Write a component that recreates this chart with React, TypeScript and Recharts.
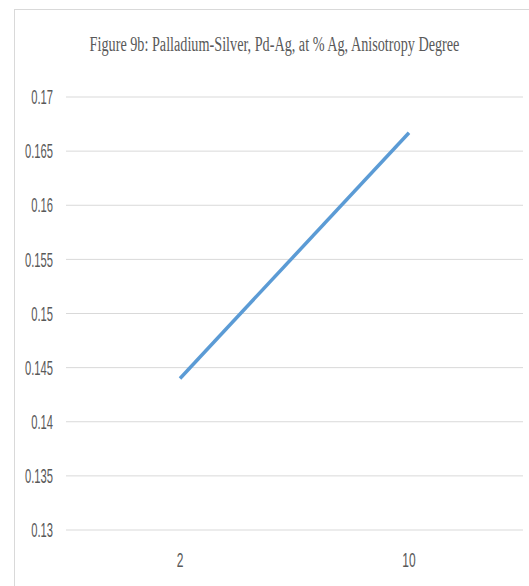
import { LineChart, Line, XAxis, YAxis, CartesianGrid } from 'recharts';

const categories = ['2', '10'];
const anisotropy = [0.144, 0.1667];
const yTicks = [0.13, 0.135, 0.14, 0.145, 0.15, 0.155, 0.16, 0.165, 0.17];
const yTickLabels = ['0.13', '0.135', '0.14', '0.145', '0.15', '0.155', '0.16', '0.165', '0.17'];
const title = 'Figure 9b: Palladium-Silver, Pd-Ag, at % Ag, Anisotropy Degree';

const chartData = categories.map((c, i) => ({ pct: c, degree: anisotropy[i] }));

const TEXT = '#595959';
const FONT = '"Liberation Sans", Arial, sans-serif';

function YTick(props: any) {
  const { x, y, payload } = props;
  const idx = yTicks.indexOf(payload.value);
  return (
    <g transform={`translate(${x},${y}) scale(0.56,1)`}>
      <text x={0} y={0} dy="0.36em" textAnchor="end" fill={TEXT} fontSize={20} fontFamily={FONT}>
        {idx >= 0 ? yTickLabels[idx] : payload.value}
      </text>
    </g>
  );
}

function XTick(props: any) {
  const { x, y, payload } = props;
  return (
    <g transform={`translate(${x},${y}) scale(0.6,1)`}>
      <text x={0} y={0} dy="0.71em" textAnchor="middle" fill={TEXT} fontSize={20} fontFamily={FONT}>
        {payload.value}
      </text>
    </g>
  );
}

export default function App() {
  return (
    <div style={{ position: 'absolute', left: 0, top: 0, width: 529, height: 586, overflow: 'hidden', background: '#fff' }}>
      {/* chart frame, runs off the right and bottom edges */}
      <div style={{ position: 'absolute', left: 14, top: 9, width: 540, height: 600, border: '1px solid #d9d9d9' }} />
      <div
        style={{
          position: 'absolute',
          left: 10,
          top: 33,
          width: 529,
          textAlign: 'center',
          fontFamily: '"Liberation Serif", "Times New Roman", serif',
          fontSize: 20,
          color: TEXT,
          transform: 'scaleX(0.71)',
          whiteSpace: 'nowrap',
        }}
      >
        {title}
      </div>
      <div style={{ position: 'absolute', left: 0, top: 0 }}>
        <LineChart width={529} height={586} data={chartData} margin={{ top: 97, right: 6, bottom: 26, left: 10 }}>
          <CartesianGrid vertical={false} stroke="#d9d9d9" strokeWidth={1} />
          <XAxis
            dataKey="pct"
            axisLine={false}
            tickLine={false}
            height={30}
            tickMargin={17}
            padding={{ left: 114, right: 114 }}
            tick={<XTick />}
          />
          <YAxis
            domain={[0.13, 0.17]}
            ticks={yTicks}
            axisLine={false}
            tickLine={false}
            width={56}
            tickMargin={7}
            tick={<YTick />}
            interval={0}
          />
          <Line
            type="linear"
            dataKey="degree"
            stroke="#5b9bd5"
            strokeWidth={3.5}
            dot={false}
            isAnimationActive={false}
          />
        </LineChart>
      </div>
    </div>
  );
}
